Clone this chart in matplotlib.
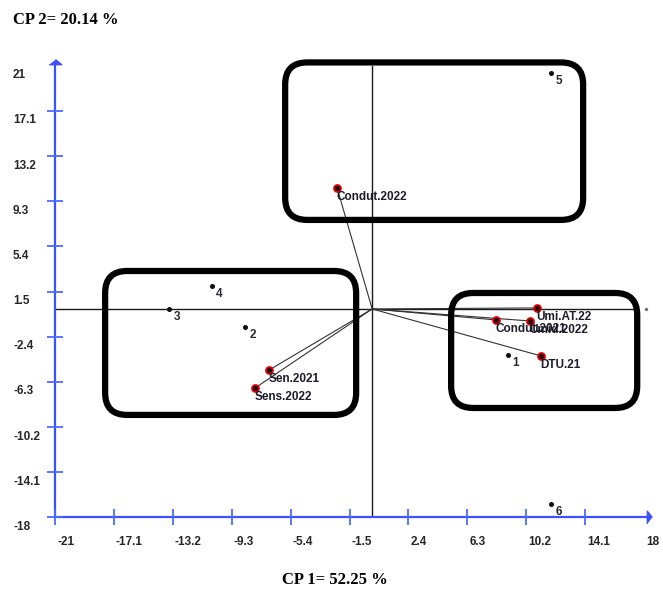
import matplotlib
matplotlib.use("Agg")
import matplotlib.pyplot as plt
from matplotlib.patches import FancyBboxPatch
from matplotlib.transforms import offset_copy

# ---------------- data ----------------
x_ticks = [-21, -17.1, -13.2, -9.3, -5.4, -1.5, 2.4, 6.3, 10.2, 14.1, 18]
x_tick_labels = ["-21", "-17.1", "-13.2", "-9.3", "-5.4", "-1.5", "2.4", "6.3", "10.2", "14.1", "18"]
y_ticks = [21, 17.1, 13.2, 9.3, 5.4, 1.5, -2.4, -6.3, -10.2, -14.1, -18]
y_tick_labels = ["21", "17.1", "13.2", "9.3", "5.4", "1.5", "-2.4", "-6.3", "-10.2", "-14.1", "-18"]

obs_labels = ["1", "2", "3", "4", "5", "6"]
obs_x = [9.0, -8.41, -13.44, -10.6, 11.85, 11.85]
obs_y = [-3.98, -1.55, 0.0, 1.98, 20.4, -16.8]

var_labels = ["Condut.2022", "Sen.2021", "Sens.2022", "Umi.AT.22", "Condut.2021", "Umid.2022", "DTU.21"]
var_x = [-2.32, -6.82, -7.75, 10.93, 8.21, 10.46, 11.19]
var_y = [10.45, -5.27, -6.82, 0.09, -0.95, -1.04, -4.06]

xlabel_text = "CP 1= 52.25 %"
ylabel_text = "CP 2= 20.14 %"

# ---------------- layout / style ----------------
W, H, DPI = 663, 590, 100
fig = plt.figure(figsize=(W / DPI, H / DPI), dpi=DPI)
ax = fig.add_axes([55 / W, (H - 517.4) / H, 589 / W, 451.6 / H])
ax.set_xlim(-21, 18)
ax.set_ylim(-18, 21)
ax.axis("off")

blue = "#3d50ff"
tick_blue = "#4a6cff"
lab_font = dict(family="Liberation Sans", fontweight="bold", fontsize=8.5, color="#262626")

# axes lines (blue) with arrows
ax.plot([-21, -21], [-18, 21.2], color=blue, lw=1.6, clip_on=False, zorder=3)
ax.plot([-21, 18.2], [-18, -18], color=blue, lw=1.6, clip_on=False, zorder=3)
ax.plot([-21], [21.3], marker=[(-1, -0.35), (1, -0.35), (0, 0.45)], ms=9,
        color=blue, clip_on=False, zorder=4, linestyle="none")
ax.plot([18.35], [-18], marker=[(-0.35, -1), (-0.35, 1), (0.45, 0)], ms=9,
        color=blue, clip_on=False, zorder=4, linestyle="none")

# ticks (crossing the axis lines)
for t in x_ticks[:-1]:
    ax.plot([t], [-18], marker="|", ms=11, mew=1.3, color=tick_blue, clip_on=False, zorder=3)
for t in y_ticks[1:]:
    ax.plot([-21], [t], marker="_", ms=11, mew=1.3, color=tick_blue, clip_on=False, zorder=3)

# tick labels
tx = offset_copy(ax.transData, fig=fig, x=2, y=-25, units="dots")
for t, s in zip(x_ticks, x_tick_labels):
    ax.text(t, -18, s, transform=tx, ha="left", va="center", clip_on=False, **lab_font)
ty = offset_copy(ax.transData, fig=fig, x=-42, y=-9.5, units="dots")
for t, s in zip(y_ticks, y_tick_labels):
    ax.text(-21, t, s, transform=ty, ha="left", va="center", clip_on=False, **lab_font)

# reference lines through origin
ax.plot([-21, 17.3], [0, 0], color="#1a1a1a", lw=1.0, zorder=2)
ax.plot([18.1], [0], marker="o", ms=1.5, color="#777777", clip_on=False, zorder=2)
ax.plot([0, 0], [-18, 21], color="#1a1a1a", lw=1.0, zorder=2)

# variable vectors
for vx, vy in zip(var_x, var_y):
    ax.plot([0, vx], [0, vy], color="#333333", lw=0.8, zorder=2)
ax.plot(var_x, var_y, linestyle="none", marker="o", ms=5, mew=1.3,
        mec="#e00000", mfc="#200000", zorder=5)
for vx, vy, s in zip(var_x, var_y, var_labels):
    ax.annotate(s, (vx, vy), xytext=(-0.5, -6.5), textcoords="offset points",
                ha="left", va="center", zorder=6,
                family="Liberation Sans", fontweight="bold", fontsize=8.5, color="#1c1c2a")

# observations
ax.plot(obs_x, obs_y, linestyle="none", marker="o", ms=2.6, color="#111111", zorder=5)
for ox, oy, s in zip(obs_x, obs_y, obs_labels):
    ax.annotate(s, (ox, oy), xytext=(3, -6), textcoords="offset points",
                ha="left", va="center", zorder=6,
                family="Liberation Sans", fontweight="bold", fontsize=8.5, color="#2a2a33")

# rounded group boxes
sx, sy = 15.1, 11.58
boxes = [(-5.76, 7.69, 13.97, 21.29), (-17.68, -9.15, -1.06, 3.28), (5.23, -8.55, 17.55, 1.38)]
for x0, y0, x1, y1 in boxes:
    p = FancyBboxPatch((x0, y0), x1 - x0, y1 - y0,
                       boxstyle="round,pad=0,rounding_size=%.3f" % (22 / sx),
                       mutation_aspect=sx / sy, fill=False, ec="black", lw=4.5,
                       zorder=7, clip_on=False)
    ax.add_patch(p)

# axis titles
fig.text(13 / W, 1 - 20 / H, ylabel_text, ha="left", va="center",
         family="Liberation Serif", fontweight="bold", fontsize=12, color="black")
fig.text(335 / W, 1 - 580 / H, xlabel_text, ha="center", va="center",
         family="Liberation Serif", fontweight="bold", fontsize=12, color="black")

fig.savefig("out.png", dpi=DPI)
